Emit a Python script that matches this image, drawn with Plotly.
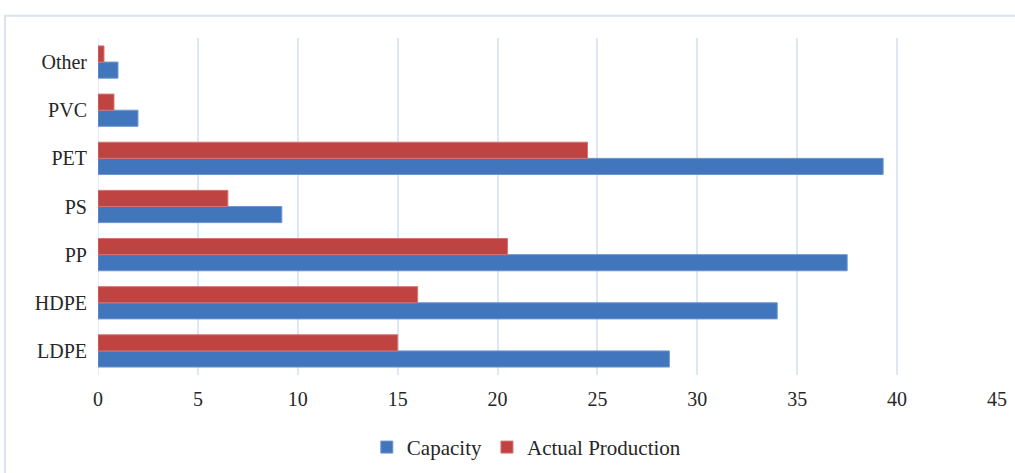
import plotly.graph_objects as go

categories = ["LDPE", "HDPE", "PP", "PS", "PET", "PVC", "Other"]
capacity = [28.6, 34.0, 37.5, 9.2, 39.3, 2.0, 1.0]
actual_production = [15.0, 16.0, 20.5, 6.5, 24.5, 0.8, 0.3]
x_ticks = [0, 5, 10, 15, 20, 25, 30, 35, 40, 45]

font_family = "Liberation Serif"

fig = go.Figure()
fig.add_trace(go.Bar(
    y=categories, x=capacity, orientation="h", name="Capacity",
    marker=dict(color="#4276BC", line=dict(color="#6C96CF", width=1)),
))
fig.add_trace(go.Bar(
    y=categories, x=actual_production, orientation="h", name="Actual Production",
    marker=dict(color="#BF4340", line=dict(color="#D47371", width=1)),
))

fig.update_layout(
    width=1015, height=473,
    margin=dict(l=98, r=18, t=38, b=98, autoexpand=False),
    paper_bgcolor="white", plot_bgcolor="white",
    barmode="group", bargap=0.33, bargroupgap=0,
    font=dict(family=font_family, size=20, color="#262626"),
    showlegend=True,
    legend=dict(orientation="h", x=0.477, xanchor="center", y=-0.215, yanchor="middle",
                font=dict(size=21), itemwidth=30, traceorder="normal"),
    xaxis=dict(range=[0, 45], tickvals=x_ticks, showgrid=True, gridcolor="#DCE6F4",
               gridwidth=1.5, zeroline=False, showline=False, ticks="",
               ticklabelstandoff=10, fixedrange=True),
    yaxis=dict(showgrid=False, showline=False, zeroline=False, ticks="",
               ticklabelstandoff=10, categoryorder="array", categoryarray=categories),
    shapes=[
        dict(type="rect", xref="paper", yref="paper", x0=-0.1034, x1=1.05, y0=-0.4, y1=1.066,
             line=dict(color="#D9E2EF", width=2), fillcolor="rgba(0,0,0,0)", layer="below"),
        dict(type="line", xref="x", yref="paper", x0=0, x1=0, y0=0, y1=1,
             line=dict(color="#DCE6F4", width=1.5), layer="below"),
    ],
)

fig.write_html("out.html")
